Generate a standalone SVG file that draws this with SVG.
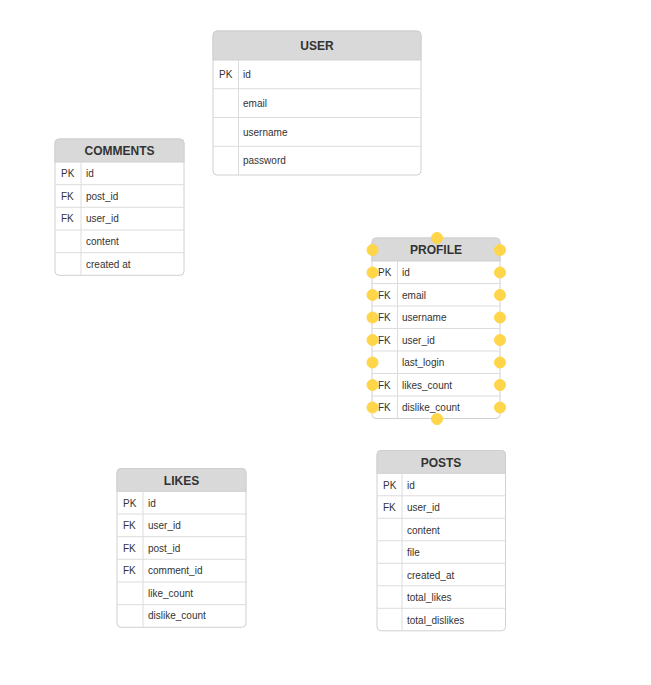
<svg xmlns="http://www.w3.org/2000/svg" width="651" height="685" viewBox="0 0 651 685">
<style>
.frame{fill:#ffffff;stroke:#d0d0d0;stroke-width:1}
.head{fill:#d9d9d9;stroke:#d0d0d0;stroke-width:1}
.sep{stroke:#dcdcdc;stroke-width:1;fill:none}
.title{font-family:"Liberation Sans",Arial,sans-serif;font-size:12px;font-weight:bold;fill:#333333;text-anchor:middle}
.t{font-family:"Liberation Sans",Arial,sans-serif;font-size:10px;fill:#333333}
.pt{fill:#ffd54a;stroke:#ffd54a;stroke-width:1}
</style>
<rect width="651" height="685" fill="#ffffff"/>
<g id="connectors"></g>

<g id="user">
<rect class="frame" x="213" y="31" width="208" height="144" rx="4"/>
<path class="head" d="M213,60 V35 Q213,31 217,31 H417 Q421,31 421,35 V60 Z"/>
<path class="sep" d="M213,88.75 H421 M213,117.5 H421 M213,146.25 H421 M238.5,60 V175"/>
<text class="title" x="317" y="50">USER</text>
<text class="t" x="219" y="78">PK</text><text class="t" x="243" y="78">id</text>
<text class="t" x="243" y="107">email</text>
<text class="t" x="243" y="135.5">username</text>
<text class="t" x="243" y="164">password</text>
</g>

<g id="comments">
<rect class="frame" x="55" y="139" width="129" height="136.3" rx="4"/>
<path class="head" d="M55,162 V143 Q55,139 59,139 H180 Q184,139 184,143 V162 Z"/>
<path class="sep" d="M55,184.7 H184 M55,207.3 H184 M55,230 H184 M55,252.7 H184 M81,162 V275.3"/>
<text class="title" x="119.5" y="155">COMMENTS</text>
<text class="t" x="61" y="177">PK</text><text class="t" x="86" y="177">id</text>
<text class="t" x="61" y="199.5">FK</text><text class="t" x="86" y="199.5">post_id</text>
<text class="t" x="61" y="222">FK</text><text class="t" x="86" y="222">user_id</text>
<text class="t" x="86" y="245">content</text>
<text class="t" x="86" y="267.5">created at</text>
</g>

<g id="profile">
<rect class="frame" x="372" y="238" width="128" height="180.5" rx="4"/>
<path class="head" d="M372,261 V242 Q372,238 376,238 H496 Q500,238 500,242 V261 Z"/>
<path class="sep" d="M372,283.5 H500 M372,306 H500 M372,328.5 H500 M372,351 H500 M372,373.5 H500 M372,396 H500 M397.5,261 V418.5"/>
<text class="title" x="436" y="254">PROFILE</text>
<text class="t" x="378" y="276">PK</text><text class="t" x="402" y="276">id</text>
<text class="t" x="378" y="298.5">FK</text><text class="t" x="402" y="298.5">email</text>
<text class="t" x="378" y="321">FK</text><text class="t" x="402" y="321">username</text>
<text class="t" x="378" y="343.5">FK</text><text class="t" x="402" y="343.5">user_id</text>
<text class="t" x="402" y="366">last_login</text>
<text class="t" x="378" y="388.5">FK</text><text class="t" x="402" y="388.5">likes_count</text>
<text class="t" x="378" y="411">FK</text><text class="t" x="402" y="411">dislike_count</text>
<g>
<circle class="pt" cx="437" cy="238" r="5.5"/>
<circle class="pt" cx="437" cy="419" r="5.5"/>
<circle class="pt" cx="372.5" cy="250" r="5.5"/><circle class="pt" cx="500" cy="250" r="5.5"/>
<circle class="pt" cx="372.5" cy="272.5" r="5.5"/><circle class="pt" cx="500" cy="272.5" r="5.5"/>
<circle class="pt" cx="372.5" cy="295" r="5.5"/><circle class="pt" cx="500" cy="295" r="5.5"/>
<circle class="pt" cx="372.5" cy="317.5" r="5.5"/><circle class="pt" cx="500" cy="317.5" r="5.5"/>
<circle class="pt" cx="372.5" cy="340" r="5.5"/><circle class="pt" cx="500" cy="340" r="5.5"/>
<circle class="pt" cx="372.5" cy="362.5" r="5.5"/><circle class="pt" cx="500" cy="362.5" r="5.5"/>
<circle class="pt" cx="372.5" cy="385" r="5.5"/><circle class="pt" cx="500" cy="385" r="5.5"/>
<circle class="pt" cx="372.5" cy="407.5" r="5.5"/><circle class="pt" cx="500" cy="407.5" r="5.5"/>
</g>
</g>

<g id="likes">
<rect class="frame" x="117" y="468.5" width="129" height="158.8" rx="4"/>
<path class="head" d="M117,491.3 V472.5 Q117,468.5 121,468.5 H242 Q246,468.5 246,472.5 V491.3 Z"/>
<path class="sep" d="M117,514 H246 M117,536.7 H246 M117,559.3 H246 M117,582 H246 M117,604.7 H246 M143,491.3 V627.3"/>
<text class="title" x="181.5" y="484.5">LIKES</text>
<text class="t" x="123" y="506.5">PK</text><text class="t" x="148" y="506.5">id</text>
<text class="t" x="123" y="529">FK</text><text class="t" x="148" y="529">user_id</text>
<text class="t" x="123" y="551.5">FK</text><text class="t" x="148" y="551.5">post_id</text>
<text class="t" x="123" y="574">FK</text><text class="t" x="148" y="574">comment_id</text>
<text class="t" x="148" y="596.5">like_count</text>
<text class="t" x="148" y="619">dislike_count</text>
</g>

<g id="posts">
<rect class="frame" x="377" y="450.5" width="128.5" height="180.3" rx="4"/>
<path class="head" d="M377,473.3 V454.5 Q377,450.5 381,450.5 H501.5 Q505.5,450.5 505.5,454.5 V473.3 Z"/>
<path class="sep" d="M377,495.8 H505.5 M377,518.3 H505.5 M377,540.8 H505.5 M377,563.3 H505.5 M377,585.8 H505.5 M377,608.3 H505.5 M402,473.3 V630.8"/>
<text class="title" x="441" y="466.5">POSTS</text>
<text class="t" x="383" y="488.5">PK</text><text class="t" x="407" y="488.5">id</text>
<text class="t" x="383" y="511">FK</text><text class="t" x="407" y="511">user_id</text>
<text class="t" x="407" y="533.5">content</text>
<text class="t" x="407" y="556">file</text>
<text class="t" x="407" y="578.5">created_at</text>
<text class="t" x="407" y="601">total_likes</text>
<text class="t" x="407" y="623.5">total_dislikes</text>
</g>
</svg>
